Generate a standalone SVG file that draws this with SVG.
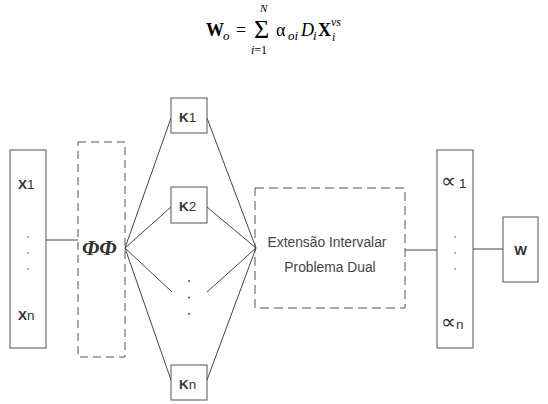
<svg xmlns="http://www.w3.org/2000/svg" width="548" height="404" viewBox="0 0 548 404">
<style>
.box{fill:#fff;stroke:#555;stroke-width:1}
.dash1{fill:none;stroke:#555;stroke-width:1;stroke-dasharray:8,5}
.dash2{fill:none;stroke:#555;stroke-width:1;stroke-dasharray:9,5}
.ln{fill:none;stroke:#444;stroke-width:1}
.lbl{font-family:"Liberation Sans",Arial,sans-serif;font-size:13.5px;fill:#333}
.b{font-weight:bold}
.sym{font-family:"DejaVu Sans",sans-serif;font-size:21px;fill:#333}
.dot{fill:#555}
.f{font-family:"Liberation Serif","Times New Roman",serif;fill:#000}
.mid{font-family:"Liberation Sans",Arial,sans-serif;font-size:13.8px;fill:#444;text-anchor:middle}
</style>
<rect width="548" height="404" fill="#fff"/>
<g id="formula" class="f">
<text x="206" y="36" font-size="18" font-weight="bold">W</text>
<text x="223" y="40" font-size="13" font-style="italic">o</text>
<text x="236" y="36" font-size="18">=</text>
<text x="254" y="38" font-size="26">Σ</text>
<text x="260" y="12" font-size="11" font-style="italic">N</text>
<text x="251" y="54" font-size="12"><tspan font-style="italic">i</tspan>=1</text>
<text x="276" y="36" font-size="18">α</text>
<text x="288" y="40" font-size="13" font-style="italic">oi</text>
<text x="301" y="36" font-size="18" font-style="italic">D</text>
<text x="313" y="40" font-size="13" font-style="italic">i</text>
<text x="318" y="36" font-size="18" font-weight="bold">X</text>
<text x="331" y="26" font-size="12" font-style="italic">vs</text>
<text x="332" y="41" font-size="12" font-style="italic">i</text>
</g>
<g id="connectors">
<line class="ln" x1="46" y1="240" x2="78" y2="240"/>
<line class="ln" x1="125" y1="248" x2="171" y2="118"/>
<line class="ln" x1="125" y1="248" x2="171" y2="207"/>
<line class="ln" x1="125" y1="248" x2="172" y2="292"/>
<line class="ln" x1="125" y1="248" x2="171" y2="380"/>
<line class="ln" x1="207" y1="118" x2="256" y2="248"/>
<line class="ln" x1="207" y1="207" x2="256" y2="248"/>
<line class="ln" x1="207" y1="292" x2="256" y2="248"/>
<line class="ln" x1="207" y1="380" x2="256" y2="248"/>
<line class="ln" x1="405" y1="250" x2="437" y2="250"/>
<line class="ln" x1="473" y1="249" x2="503" y2="249"/>
</g>
<g id="X">
<rect class="box" x="10" y="150" width="36" height="198"/>
<text class="lbl" x="18" y="189"><tspan class="b">X</tspan>1</text>
<circle class="dot" cx="28" cy="237" r="0.8"/>
<circle class="dot" cx="28" cy="253" r="0.8"/>
<circle class="dot" cx="28" cy="269" r="0.8"/>
<text class="lbl" x="18" y="320"><tspan class="b">X</tspan>n</text>
</g>
<g id="Phi">
<rect class="dash1" x="78" y="142" width="47" height="215"/>
<text x="82" y="255" font-family="Liberation Serif,'Times New Roman',serif" font-size="22" font-weight="bold" font-style="italic" fill="#333">ΦΦ</text>
</g>
<g id="K1">
<rect class="box" x="171" y="98" width="36" height="35"/>
<text class="lbl" x="179" y="122"><tspan class="b">K</tspan>1</text>
</g>
<g id="K2">
<rect class="box" x="171" y="187" width="36" height="36"/>
<text class="lbl" x="179" y="211"><tspan class="b">K</tspan>2</text>
</g>
<g id="Kdots">
<circle class="dot" cx="189" cy="281" r="1"/>
<circle class="dot" cx="189" cy="297.5" r="1"/>
<circle class="dot" cx="189" cy="314" r="1"/>
</g>
<g id="Kn">
<rect class="box" x="171" y="365" width="36" height="35"/>
<text class="lbl" x="179" y="389"><tspan class="b">K</tspan>n</text>
</g>
<g id="Dual">
<rect class="dash2" x="255" y="188" width="150" height="120"/>
<text class="mid" x="327" y="247">Extensão Intervalar</text>
<text class="mid" x="330" y="272">Problema Dual</text>
</g>
<g id="Alpha">
<rect class="box" x="437" y="150" width="36" height="198"/>
<text class="sym" x="441" y="188">∝</text>
<text class="lbl" x="459" y="188">1</text>
<circle class="dot" cx="455" cy="237" r="0.8"/>
<circle class="dot" cx="455" cy="253" r="0.8"/>
<circle class="dot" cx="455" cy="269" r="0.8"/>
<text class="sym" x="441" y="329">∝</text>
<text class="lbl" x="456" y="329">n</text>
</g>
<g id="W">
<rect class="box" x="503" y="217" width="35" height="65"/>
<text class="lbl b" x="520.5" y="255" text-anchor="middle">W</text>
</g>
</svg>
